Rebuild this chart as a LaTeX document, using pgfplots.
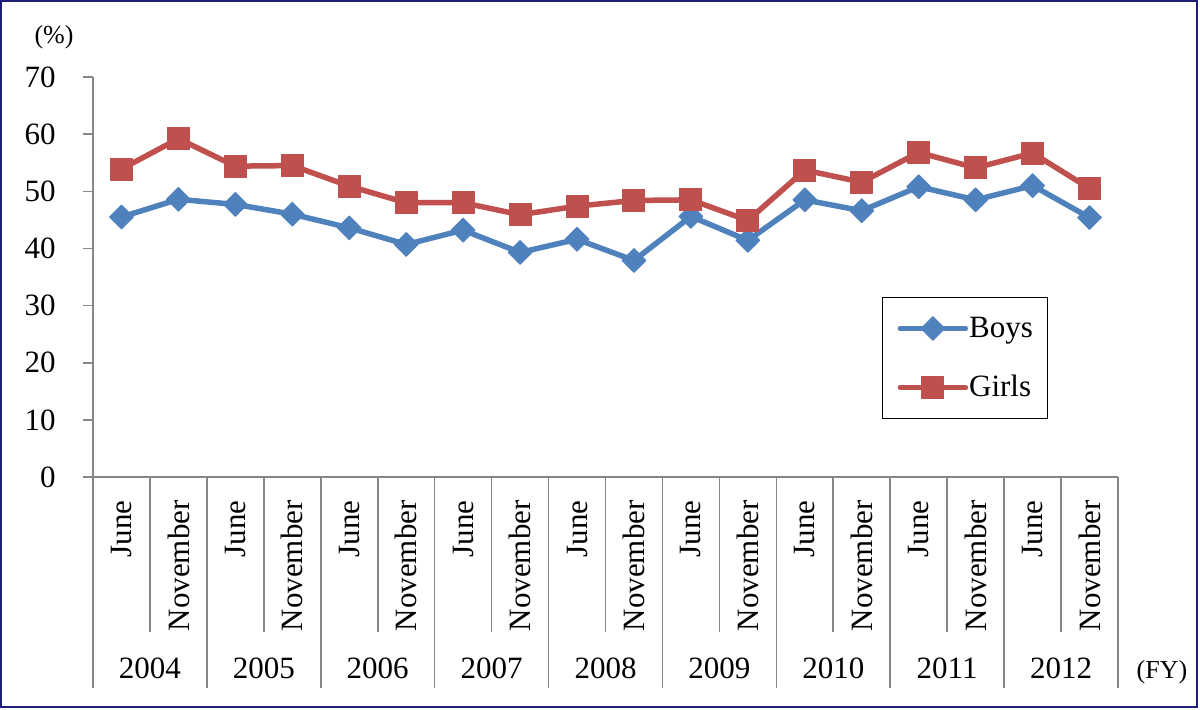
\documentclass[border=0pt]{standalone}
\usepackage{fontspec}
\setmainfont{Liberation Serif}
\usepackage{pgfplots}
\pgfplotsset{compat=1.18}
\definecolor{boys}{RGB}{79,129,189}
\definecolor{girls}{RGB}{192,80,77}
\definecolor{axgray}{RGB}{134,134,134}
\definecolor{framec}{RGB}{30,30,120}
\newcommand\lfont{\fontsize{15.5}{18}\selectfont}
\newcommand\sfont{\fontsize{13}{15}\selectfont}
\begin{document}
\begin{tikzpicture}
\begin{axis}[
  at={(0,0)}, anchor=south west,
  scale only axis, width=512.5pt, height=200pt,
  xmin=-0.5, xmax=17.5, ymin=0, ymax=70,
  axis x line=bottom, axis y line=left,
  axis line style={-, draw=axgray, line width=0.8pt},
  tick align=outside,
  ytick={0,10,...,70},
  ytick style={draw=axgray, line width=0.8pt},
  major tick length=5pt,
  xtick={0,...,17},
  xtick style={draw=none},
  xticklabels={June,November,June,November,June,November,June,November,June,November,June,November,June,November,June,November,June,November},
  xticklabel style={rotate=90, anchor=east, inner sep=0pt, font=\lfont},
  yticklabel style={anchor=east, inner sep=0pt, font=\lfont},
  xticklabel shift=6.5pt,
  yticklabel shift=13.5pt,
  /pgf/number format/assume math mode=true,
  clip=false,
  legend cell align=left,
  legend style={at={(0.7698,0.45)}, anchor=north west, draw=black, line width=0.6pt,
    fill=white, inner xsep=7.5pt, inner ysep=9.5pt, column sep=0.5pt, row sep=17.5pt,
    font=\lfont, nodes={inner sep=0pt}},
  legend image code/.code={\draw[mark repeat=2,mark phase=2,#1] plot coordinates {(0pt,0pt) (16.25pt,0pt) (32.5pt,0pt)};},
]
\addplot[boys, line width=2.75pt, line cap=round, line join=round,
  mark=square*, mark size=4.2pt, mark options={rotate=45, solid, line width=0.5pt, fill=boys, draw=boys}]
  coordinates {
  (0,45.5) (1,48.6) (2,47.7) (3,46.0) (4,43.6) (5,40.7) (6,43.2) (7,39.3) (8,41.6)
  (9,37.9) (10,45.6) (11,41.4) (12,48.5) (13,46.6) (14,50.8) (15,48.5) (16,51.0) (17,45.4)};
\addlegendentry{Boys}
\addplot[girls, line width=2.75pt, line cap=round, line join=round,
  mark=square*, mark size=5.5pt, mark options={solid, line width=0.5pt, fill=girls, draw=girls}]
  coordinates {
  (0,53.9) (1,59.2) (2,54.4) (3,54.5) (4,50.9) (5,48.0) (6,48.0) (7,45.9) (8,47.4)
  (9,48.4) (10,48.5) (11,44.9) (12,53.7) (13,51.6) (14,56.8) (15,54.1) (16,56.7) (17,50.5)};
\addlegendentry{Girls}
\node[font=\lfont] at (axis cs:0.5,0) [yshift=-95.5pt] {2004};
\node[font=\lfont] at (axis cs:2.5,0) [yshift=-95.5pt] {2005};
\node[font=\lfont] at (axis cs:4.5,0) [yshift=-95.5pt] {2006};
\node[font=\lfont] at (axis cs:6.5,0) [yshift=-95.5pt] {2007};
\node[font=\lfont] at (axis cs:8.5,0) [yshift=-95.5pt] {2008};
\node[font=\lfont] at (axis cs:10.5,0) [yshift=-95.5pt] {2009};
\node[font=\lfont] at (axis cs:12.5,0) [yshift=-95.5pt] {2010};
\node[font=\lfont] at (axis cs:14.5,0) [yshift=-95.5pt] {2011};
\node[font=\lfont] at (axis cs:16.5,0) [yshift=-95.5pt] {2012};
\end{axis}
\foreach \k in {0,2,...,18} {\draw[axgray, line width=0.8pt] (\k*28.4722pt,0pt) -- ++(0,-105.5pt);}
\foreach \k in {1,3,...,17} {\draw[axgray, line width=0.8pt] (\k*28.4722pt,0pt) -- ++(0,-77.5pt);}
\node[font=\sfont] at (534.5pt,-97.5pt) {(FY)};
\node[font=\sfont] at (-19.5pt,220pt) {(\%)};
\draw[framec, line width=1pt] (-46pt,-115pt) rectangle (552pt,238pt);
\pgfresetboundingbox
\path[use as bounding box] (-46.5pt,-116pt) rectangle (553.5pt,238.5pt);
\end{tikzpicture}
\end{document}
